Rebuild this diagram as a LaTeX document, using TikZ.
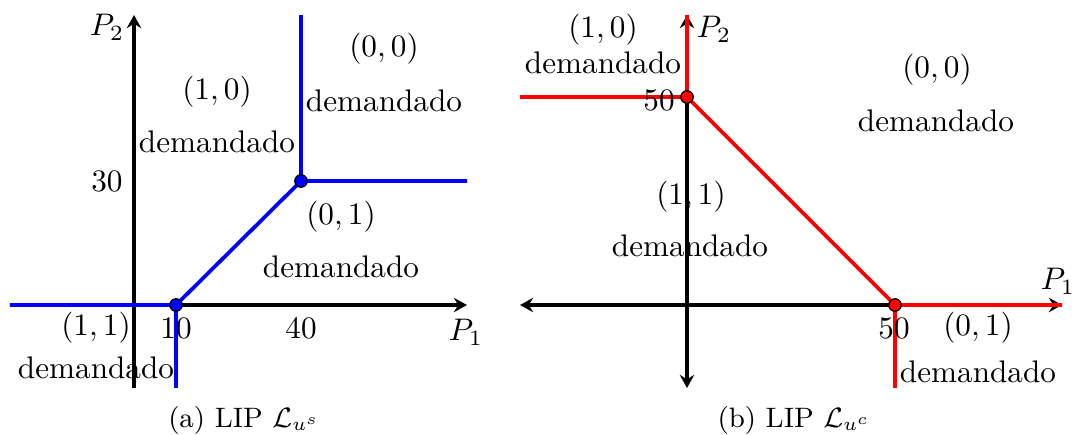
\documentclass[tikz,border=0pt]{standalone}
\usetikzlibrary{arrows.meta}
\begin{document}
\begin{tikzpicture}[x=0.3205pt,y=-0.3205pt,
  axis/.style={line width=1.35pt,black},
  bl/.style={line width=1.2pt,blue},
  rd/.style={line width=1.2pt,red},
  tip/.tip={Stealth[length=4.2pt,width=4.6pt,inset=1.4pt]},
  dotb/.style={circle,fill=blue,draw=black,line width=0.4pt,inner sep=0pt,minimum size=4pt},
  dotr/.style={circle,fill=red,draw=black,line width=0.4pt,inner sep=0pt,minimum size=4pt},
  lab/.style={inner sep=0pt,anchor=center},
  captext/.style={inner sep=0pt,anchor=center,font=\fontsize{9}{11}\selectfont}
]
\useasboundingbox (0,0) rectangle (1075,434);
% ---------- panel (a) ----------
\coordinate (aO) at (134,305);
\coordinate (aXl) at (10,305);
\coordinate (aXr) at (467,305);
\coordinate (aYb) at (134,388);
\coordinate (aYt) at (134,15);
\coordinate (aA) at (176,305);
\coordinate (aB) at (301,181);
\coordinate (aAd) at (176,388);
\coordinate (aBu) at (301,15);
\coordinate (aBr) at (467,181);
\draw[axis,-tip] (aXl) -- (aXr);
\draw[axis,-tip] (aYb) -- (aYt);
\draw[bl] (aXl) -- (aA) -- (aB) -- (aBr);
\draw[bl] (aAd) -- (aA);
\draw[bl] (aB) -- (aBu);
\node[dotb] (adA) at (aA) {};
\node[dotb] (adB) at (aB) {};
\node[lab] (aP2) at (107,27) {$P_2$};
\node[lab] (aP1) at (466,332) {$P_1$};
\node[lab] (a30) at (107,181) {$30$};
\node[lab] (a10) at (176,328) {$10$};
\node[lab] (a40) at (301,328) {$40$};
\node[lab] (a10t) at (217,92) {$(1,0)$};
\node[lab] (a10d) at (217,142) {demandado};
\node[lab] (a00t) at (384,49) {$(0,0)$};
\node[lab] (a00d) at (384,101) {demandado};
\node[lab] (a01t) at (341,217) {$(0,1)$};
\node[lab] (a01d) at (341,267) {demandado};
\node[lab] (a11t) at (96,328) {$(1,1)$};
\node[lab] (a11d) at (96,368) {demandado};
\node[captext] (acap) at (244,420) {(a) LIP $\mathcal{L}_{u^s}$};
% ---------- panel (b) ----------
\coordinate (bXl) at (520,305);
\coordinate (bXr) at (1062,305);
\coordinate (bYb) at (687,388);
\coordinate (bYt) at (687,15);
\coordinate (bA) at (687,97);
\coordinate (bB) at (895,305);
\coordinate (bAl) at (520,97);
\coordinate (bBd) at (895,388);
\draw[axis,tip-tip] (bXl) -- (bXr);
\draw[axis,tip-tip] (bYb) -- (bYt);
\draw[rd] (bAl) -- (bA) -- (bB) -- (bXr);
\draw[rd] (bA) -- (bYt);
\draw[rd] (bB) -- (bBd);
\node[dotr] (bdA) at (bA) {};
\node[dotr] (bdB) at (bB) {};
\node[lab] (bP2) at (714,29) {$P_2$};
\node[lab] (bP1) at (1058,281) {$P_1$};
\node[lab] (b50y) at (659,100) {$50$};
\node[lab] (b50x) at (894,328) {$50$};
\node[lab] (b10t) at (603,30) {$(1,0)$};
\node[lab] (b10d) at (603,63) {demandado};
\node[lab] (b00t) at (937,70) {$(0,0)$};
\node[lab] (b00d) at (936,121) {demandado};
\node[lab] (b11t) at (691,197) {$(1,1)$};
\node[lab] (b11d) at (690,246) {demandado};
\node[lab] (b01t) at (978,328) {$(0,1)$};
\node[lab] (b01d) at (978,372) {demandado};
\node[captext] (bcap) at (794,420) {(b) LIP $\mathcal{L}_{u^c}$};
\end{tikzpicture}
\end{document}
